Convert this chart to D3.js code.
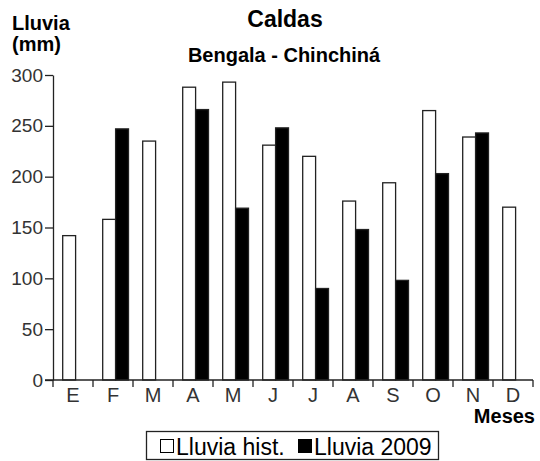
<!DOCTYPE html>
<html><head><meta charset="utf-8">
<script src="https://cdn.jsdelivr.net/npm/d3@7"></script>
<style>body{margin:0;background:#fff}svg{display:block}text{font-family:"Liberation Sans",Arial,sans-serif}</style>
</head><body><svg id="c" width="540" height="461"></svg>
<script>
const months = ["E","F","M","A","M","J","J","A","S","O","N","D"];
const histValues = [142, 158, 235, 288, 293, 231, 220, 176, 194, 265, 239, 170];
const values2009 = [null, 247, null, 266, 169, 248, 90, 148, 98, 203, 243, null];
const seriesNames = ["Lluvia hist.", "Lluvia 2009"];
const yTicks = [0, 50, 100, 150, 200, 250, 300];

const svg = d3.select("#c");
const x = d3.scaleBand().domain(d3.range(months.length)).range([53, 533]).paddingInner(0).paddingOuter(0);
const x1 = d3.scaleBand().domain([0,1]).range([9.7, 35.5]);
const y = d3.scaleLinear().domain([0, 300]).range([380, 75]);

const rows = months.map((m,i)=>({i, vals:[histValues[i], values2009[i]]}));
const g = svg.append("g");
rows.forEach(r=>{
  r.vals.forEach((v,s)=>{
    if (v==null) return;
    g.append("rect")
      .attr("x", x(r.i)+x1(s)).attr("width", x1.bandwidth())
      .attr("y", y(v)).attr("height", y(0)-y(v))
      .attr("fill", s===0?"#fff":"#000")
      .attr("stroke", "#222").attr("stroke-width", 1.3);
  });
});

// Y axis
const ya = svg.append("g").attr("transform","translate(53,0)")
  .call(d3.axisLeft(y).tickValues(yTicks).tickSize(8).tickSizeOuter(0).tickPadding(2));
ya.select(".domain").attr("stroke","#222").attr("stroke-width",1.3);
ya.selectAll(".tick line").attr("stroke","#222").attr("stroke-width",1.3);
ya.selectAll(".tick text").attr("font-size",19).attr("fill","#333").attr("font-family","Liberation Sans, Arial, sans-serif");

// X axis (ticks at band boundaries)
const xa = svg.append("g").attr("transform","translate(0,380)");
xa.append("line").attr("x1",45).attr("x2",533).attr("y1",0).attr("y2",0).attr("stroke","#222").attr("stroke-width",1.3);
const bounds = d3.range(months.length+1).map(i=> i<months.length ? x(i) : x(i-1)+x.bandwidth());
xa.selectAll("line.tk").data(bounds).join("line").attr("class","tk")
  .attr("x1",d=>d).attr("x2",d=>d).attr("y1",0).attr("y2",7).attr("stroke","#222").attr("stroke-width",1.3);
xa.selectAll("text.lb").data(months).join("text").attr("class","lb")
  .attr("x",(d,i)=>x(i)+x.bandwidth()/2).attr("y",22).attr("text-anchor","middle")
  .attr("font-size",20).attr("fill","#333").text(d=>d);

// Titles
svg.append("text").attr("x",285).attr("y",27).attr("text-anchor","middle").attr("font-size",23).attr("font-weight","bold").text("Caldas");
svg.append("text").attr("x",284).attr("y",62).attr("text-anchor","middle").attr("font-size",20).attr("font-weight","bold").text("Bengala - Chinchiná");
svg.append("text").attr("x",12).attr("y",30).attr("font-size",20).attr("font-weight","bold").text("Lluvia");
svg.append("text").attr("x",12).attr("y",51).attr("font-size",20).attr("font-weight","bold").text("(mm)");
svg.append("text").attr("x",535).attr("y",423).attr("text-anchor","end").attr("font-size",20).attr("font-weight","bold").text("Meses");

// Legend
const lg = svg.append("g");
lg.append("rect").attr("x",146.5).attr("y",431.5).attr("width",292).attr("height",28).attr("fill","#fff").attr("stroke","#222").attr("stroke-width",1.3);
const legX = [160, 298];
seriesNames.forEach((n,s)=>{
  lg.append("rect").attr("x",legX[s]+0.5).attr("y",439.5).attr("width",13).attr("height",13)
    .attr("fill", s===0?"#fff":"#000").attr("stroke","#000").attr("stroke-width",1);
  lg.append("text").attr("x",legX[s]+16).attr("y",455).attr("font-size",23).text(n);
});
</script></body></html>
